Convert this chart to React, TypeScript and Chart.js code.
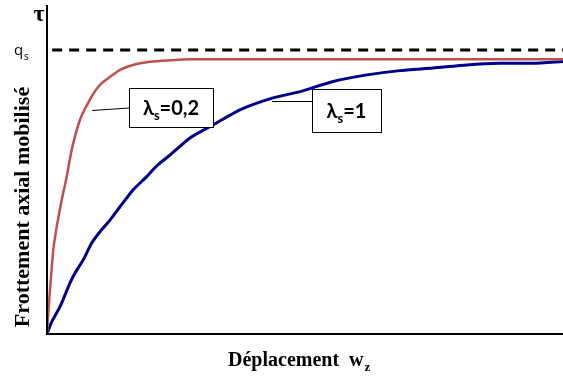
import React, { useEffect, useRef } from "react";
import { Chart, registerables } from "chart.js";

Chart.register(...registerables);

// Déplacement w_z (0..100, relative) and mobilised friction τ / q_s
const redX = [0, 0.2, 0.58, 1.22, 1.88, 2.85, 3.82, 4.79, 6.4, 8.72, 10.27, 12.21, 14.15, 16.67, 19.96, 23.26, 28.29, 40, 60, 80, 100];
const redY = [0, 0.06, 0.155, 0.296, 0.377, 0.472, 0.553, 0.648, 0.754, 0.838, 0.877, 0.905, 0.93, 0.947, 0.958, 0.963, 0.967, 0.967, 0.967, 0.967, 0.967];

const blueX = [0, 0.91, 2.52, 4.46, 5.43, 7.03, 8.66, 10.27, 12.21, 14.15, 16.67, 19.32, 21.26, 23.84, 27.71, 32.17, 37.4, 43.8, 49.03, 55.43, 62.02, 68.41, 74.81, 81.4, 87.79, 94.19, 100];
const blueY = [0, 0.043, 0.096, 0.18, 0.215, 0.261, 0.32, 0.36, 0.401, 0.448, 0.507, 0.554, 0.592, 0.63, 0.69, 0.736, 0.789, 0.831, 0.853, 0.889, 0.912, 0.927, 0.936, 0.947, 0.953, 0.953, 0.959];

const qsX = [1, 100];
const qsY = [1, 1];

const Y_MAX = 1.158;

const decorPlugin = {
  id: "decor",
  afterDatasetsDraw(chart: any) {
    const ctx = chart.ctx as CanvasRenderingContext2D;
    const a = chart.chartArea;
    ctx.save();
    // axes
    ctx.strokeStyle = "#000";
    ctx.lineWidth = 2;
    ctx.beginPath();
    ctx.moveTo(a.left, a.top);
    ctx.lineTo(a.left, a.bottom);
    ctx.lineTo(a.right, a.bottom);
    ctx.stroke();

    // tau
    ctx.fillStyle = "#000";
    ctx.font = "bold 24px 'Liberation Serif', serif";
    ctx.textAlign = "center";
    ctx.textBaseline = "middle";
    ctx.fillText("τ", 39, 15);

    // q_s
    ctx.font = "15px 'Open Sans', sans-serif";
    ctx.textAlign = "left";
    ctx.textBaseline = "alphabetic";
    ctx.fillText("q", 14, 55);
    ctx.font = "10px 'Open Sans', sans-serif";
    ctx.fillText("s", 24, 60);

    // y title
    ctx.save();
    ctx.translate(23, 207);
    ctx.rotate(-Math.PI / 2);
    ctx.font = "bold 22px 'Liberation Serif', serif";
    ctx.textAlign = "center";
    ctx.textBaseline = "middle";
    ctx.fillText("Frottement axial mobilisé", 0, 0);
    ctx.restore();

    // x title
    ctx.font = "bold 20px 'Liberation Serif', serif";
    ctx.textAlign = "left";
    ctx.textBaseline = "alphabetic";
    const t1 = "Déplacement  w";
    ctx.fillText(t1, 228, 366);
    const w1 = ctx.measureText(t1).width;
    ctx.font = "bold 13px 'Liberation Serif', serif";
    ctx.fillText("z", 228 + w1 + 1, 371);

    // label boxes
    const box = (x: number, y: number, w: number, h: number, lx1: number, ly1: number, lx2: number, ly2: number, val: string) => {
      ctx.lineWidth = 1;
      ctx.strokeStyle = "#000";
      ctx.beginPath();
      ctx.moveTo(lx1, ly1);
      ctx.lineTo(lx2, ly2);
      ctx.stroke();
      ctx.fillStyle = "#fff";
      ctx.fillRect(x, y, w, h);
      ctx.strokeRect(x + 0.5, y + 0.5, w, h);
      ctx.fillStyle = "#000";
      ctx.font = "bold 20px Lato, sans-serif";
      const wl = ctx.measureText("λ").width;
      ctx.font = "bold 13px Lato, sans-serif";
      const ws = ctx.measureText("s").width;
      ctx.font = "bold 20px Lato, sans-serif";
      const wv = ctx.measureText("=" + val).width;
      const total = wl + ws + wv;
      let sx = x + (w - total) / 2;
      const base = y + h / 2 + 7;
      ctx.textAlign = "left";
      ctx.fillText("λ", sx, base);
      sx += wl;
      ctx.font = "bold 13px Lato, sans-serif";
      ctx.fillText("s", sx, base + 5);
      sx += ws;
      ctx.font = "bold 20px Lato, sans-serif";
      ctx.fillText("=" + val, sx, base);
    };
    box(129, 88, 84, 39, 92, 110.5, 129, 108, "0,2");
    box(312, 89, 69, 43, 272, 101.5, 312, 101.5, "1");
    ctx.restore();
  },
};

export default function App() {
  const ref = useRef<HTMLCanvasElement | null>(null);
  useEffect(() => {
    document.body.style.margin = "0";
    const canvas = ref.current!;
    const chart = new Chart(canvas, {
      type: "line",
      data: {
        datasets: [
          {
            label: "qs",
            data: qsX.map((x, i) => ({ x, y: qsY[i] })),
            borderColor: "#000",
            borderWidth: 3,
            borderDash: [10, 7],
            pointRadius: 0,
            fill: false,
          },
          {
            label: "λs=0,2",
            data: redX.map((x, i) => ({ x, y: redY[i] })),
            borderColor: "#C0504D",
            borderWidth: 2.5,
            pointRadius: 0,
            tension: 0.2,
            fill: false,
          },
          {
            label: "λs=1",
            data: blueX.map((x, i) => ({ x, y: blueY[i] })),
            borderColor: "#00008C",
            borderWidth: 3,
            pointRadius: 0,
            tension: 0.2,
            fill: false,
          },
        ],
      },
      options: {
        animation: false,
        responsive: false,
        devicePixelRatio: 1,
        layout: { padding: { left: 47, right: 0, top: 5, bottom: 44 } },
        scales: {
          x: { type: "linear", min: 0, max: 100, display: false },
          y: { type: "linear", min: 0, max: Y_MAX, display: false },
        },
        plugins: { legend: { display: false }, tooltip: { enabled: false } },
      },
      plugins: [decorPlugin],
    });
    return () => chart.destroy();
  }, []);
  return <canvas ref={ref} width={563} height={378} style={{ display: "block" }} />;
}
